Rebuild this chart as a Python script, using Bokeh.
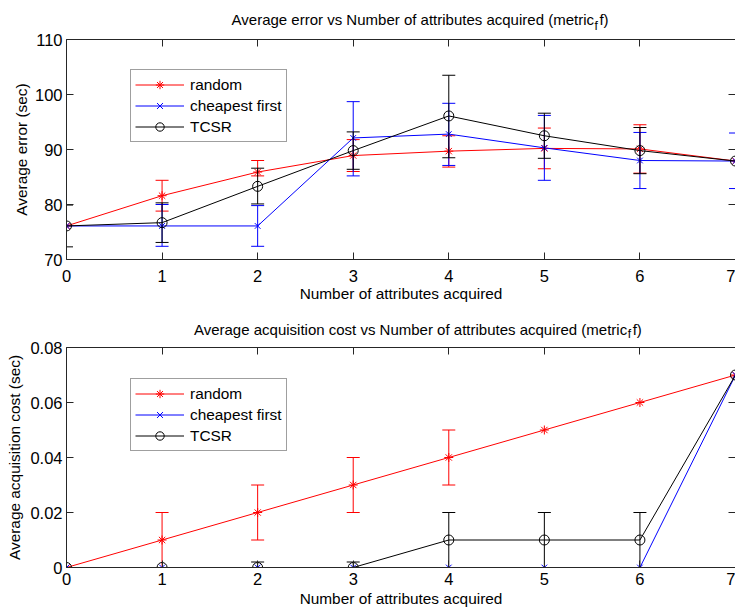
from bokeh.plotting import figure
from bokeh.models import (Range1d, FixedTicker, LinearAxis, Legend, LegendItem,
                          NumeralTickFormatter, CustomLabelingPolicy, GridBox)
from bokeh.core.properties import value
from bokeh.embed import file_html
from bokeh.resources import INLINE

# ---------------- data ----------------
attrs = [0, 1, 2, 3, 4, 5, 6, 7]
x_ticks = [0, 1, 2, 3, 4, 5, 6, 7]
err_y_ticks = [70, 80, 90, 100, 110]
cost_y_ticks = [0, 0.02, 0.04, 0.06, 0.08]
series_names = ["random", "cheapest first", "TCSR"]
title_top = "Average error vs Number of attributes acquired (metric"
title_bottom = "Average acquisition cost vs Number of attributes acquired (metric"
title_sub = "f"
title_tail = "f)"

# Average error (sec)
err_random = [76.1, 81.6, 85.9, 88.9, 89.7, 90.2, 90.1, 87.9]
err_random_lo = [76.1, 78.8, 85.2, 86.0, 86.8, 86.5, 85.7, 87.9]
err_random_hi = [76.1, 84.4, 88.0, 91.8, 92.5, 93.9, 94.5, 87.9]

err_cheap = [76.1, 76.1, 76.1, 92.1, 92.8, 90.3, 88.0, 87.9]
err_cheap_lo = [76.1, 72.4, 72.4, 85.2, 87.1, 84.4, 82.9, 82.9]
err_cheap_hi = [76.1, 80.0, 79.8, 98.7, 98.4, 96.2, 93.1, 93.0]

err_tcsr = [76.1, 76.7, 83.3, 89.8, 96.1, 92.5, 89.8, 87.9]
err_tcsr_lo = [72.3, 73.1, 80.1, 86.4, 88.5, 88.4, 85.6, 87.9]
err_tcsr_hi = [79.9, 80.3, 86.6, 93.2, 103.5, 96.6, 94.0, 87.9]

# Average acquisition cost (sec)
cost_random = [0, 0.01, 0.02, 0.03, 0.04, 0.05, 0.06, 0.07]
cost_random_lo = [0, 0.0, 0.01, 0.02, 0.03, 0.05, 0.06, 0.07]
cost_random_hi = [0, 0.02, 0.03, 0.04, 0.05, 0.05, 0.06, 0.07]

cost_cheap = [0, 0, 0, 0, 0, 0, 0, 0.07]
cost_cheap_lo = [0, 0, 0, 0, 0, 0, 0, 0.07]
cost_cheap_hi = [0, 0, 0, 0, 0, 0, 0, 0.07]

cost_tcsr = [0, 0, 0, 0, 0.01, 0.01, 0.01, 0.07]
cost_tcsr_lo = [0, 0, -0.002, -0.002, 0.0, 0.0, 0.0, 0.07]
cost_tcsr_hi = [0, 0, 0.002, 0.002, 0.02, 0.02, 0.02, 0.07]

# ---------------- style ----------------
FONT = "Liberation Sans"
FS = "15.4px"
TITLE_FS = "15px"
SUB_FS = "12px"
TICK_FS = "16.5px"
AX = "#262626"
RED, BLUE, BLACK = "#ff0000", "#0000ff", "#000000"
W = 735


def style_axes(p, yticks, ylabel, xl_standoff, xt_standoff, yl_standoff):
    p.outline_line_color = None
    p.xgrid.visible = False
    p.ygrid.visible = False
    top = LinearAxis(major_label_standoff=0,
                     major_label_policy=CustomLabelingPolicy(code="return []"))
    right = LinearAxis(major_label_standoff=0, axis_line_color=None,
                       major_label_policy=CustomLabelingPolicy(code="return []"))
    p.add_layout(top, "above")
    p.add_layout(right, "right")
    for ax in p.xaxis:
        ax.ticker = FixedTicker(ticks=x_ticks)
    for ax in p.yaxis:
        ax.ticker = FixedTicker(ticks=yticks)
    for ax in list(p.xaxis) + list(p.yaxis):
        ax.major_tick_in = 7
        ax.major_tick_out = 0
        ax.minor_tick_line_color = None
        ax.major_tick_line_color = AX
        ax.major_label_text_font = FONT
        ax.major_label_text_color = "black"
    for ax in (top, right):
        ax.major_label_text_font_size = "0px"
    top.axis_line_color = AX
    xa = p.below[0]
    ya = p.left[0]
    for ax in (xa, ya):
        ax.axis_line_color = AX
        ax.major_label_text_font_size = TICK_FS
        ax.axis_label_text_font = FONT
        ax.axis_label_text_font_size = FS
        ax.axis_label_text_font_style = "normal"
        ax.axis_label_text_color = "black"
    xa.axis_label = "Number of attributes acquired"
    xa.axis_label_standoff = xl_standoff
    xa.major_label_standoff = xt_standoff
    ya.axis_label = ylabel
    ya.axis_label_standoff = yl_standoff
    ya.major_label_standoff = 4


def draw_series(p, y, lo, hi, color, marker, msize):
    keep = [i for i in range(len(attrs)) if hi[i] != lo[i]]
    ex = [attrs[i] for i in keep]
    elo = [lo[i] for i in keep]
    ehi = [hi[i] for i in keep]
    p.segment(ex, elo, ex, ehi, line_color=color, line_width=1)
    p.scatter(ex, elo, marker="dash", size=13, line_color=color, line_width=1)
    p.scatter(ex, ehi, marker="dash", size=13, line_color=color, line_width=1)
    ln = p.line(attrs, y, line_color=color, line_width=1)
    sc = p.scatter(attrs, y, marker=marker, size=msize, line_color=color,
                   fill_color=None, line_width=1)
    return [ln, sc]


def title_fig(h, main, x_main, y_main, x_sub, y_sub, x_tail):
    # transparent strip laid over the top border of a chart
    t = figure(width=W, height=h, x_range=Range1d(0, W), y_range=Range1d(0, h),
               output_backend="svg", toolbar_location=None, title=None,
               x_axis_location=None, y_axis_location=None, min_border=0,
               min_border_top=0, min_border_bottom=0, min_border_left=0,
               min_border_right=0)
    t.outline_line_color = None
    t.grid.visible = False
    t.background_fill_color = None
    t.border_fill_color = None
    t.text(x=[x_main], y=[y_main], text=[main], text_align="right",
           text_baseline="alphabetic", text_font=value(FONT),
           text_font_size=value(TITLE_FS), text_color="black")
    t.text(x=[x_sub], y=[y_sub], text=[title_sub], text_align="left",
           text_baseline="alphabetic", text_font=value(FONT),
           text_font_size=value(SUB_FS), text_color="black")
    t.text(x=[x_tail], y=[y_main], text=[title_tail], text_align="left",
           text_baseline="alphabetic", text_font=value(FONT),
           text_font_size=value(TITLE_FS), text_color="black")
    return t


def add_legend(p, items, loc):
    leg = Legend(items=[LegendItem(label=n, renderers=r) for n, r in zip(series_names, items)],
                 location=loc, padding=4, spacing=0, label_height=21, glyph_height=21,
                 glyph_width=49, label_standoff=6, margin=0,
                 label_text_font=FONT, label_text_font_size=FS, label_text_color="black",
                 border_line_color="#404040", border_line_width=1,
                 background_fill_color="white", background_fill_alpha=1)
    p.add_layout(leg)


# ---------------- top chart ----------------
p1 = figure(width=W, height=306, x_range=Range1d(0, 7), y_range=Range1d(70, 110),
            output_backend="svg", toolbar_location=None,
            min_border_left=66, min_border_right=0, min_border_top=39, min_border_bottom=47)
style_axes(p1, err_y_ticks, "Average error (sec)", 0, 10, 2)
r1 = draw_series(p1, err_random, err_random_lo, err_random_hi, RED, "asterisk", 9)
r2 = draw_series(p1, err_cheap, err_cheap_lo, err_cheap_hi, BLUE, "x", 8)
r3 = draw_series(p1, err_tcsr, err_tcsr_lo, err_tcsr_hi, BLACK, "circle", 10)
add_legend(p1, [r1, r2, r3], (64, 117))
t1 = title_fig(36, title_top, 579.5, 14.3, 580, 9.5, 585.5)

# ---------------- bottom chart ----------------
p2 = figure(width=W, height=306, x_range=Range1d(0, 7), y_range=Range1d(0, 0.08),
            output_backend="svg", toolbar_location=None,
            min_border_left=66, min_border_right=0, min_border_top=41, min_border_bottom=45)
style_axes(p2, cost_y_ticks, "Average acquisition cost (sec)", 2, 5, 4)
p2.left[0].formatter = NumeralTickFormatter(format="0.[00]")
q1 = draw_series(p2, cost_random, cost_random_lo, cost_random_hi, RED, "asterisk", 9)
q2 = draw_series(p2, cost_cheap, cost_cheap_lo, cost_cheap_hi, BLUE, "x", 8)
q3 = draw_series(p2, cost_tcsr, cost_tcsr_lo, cost_tcsr_hi, BLACK, "circle", 10)
add_legend(p2, [q1, q2, q3], (64, 116))
t2 = title_fig(46, title_bottom, 616, 20.3, 616.5, 15, 622)

layout = GridBox(children=[(p1, 0, 0), (t1, 0, 0), (p2, 1, 0), (t2, 1, 0)], spacing=0)
open("out.html", "w").write(file_html(layout, INLINE))
